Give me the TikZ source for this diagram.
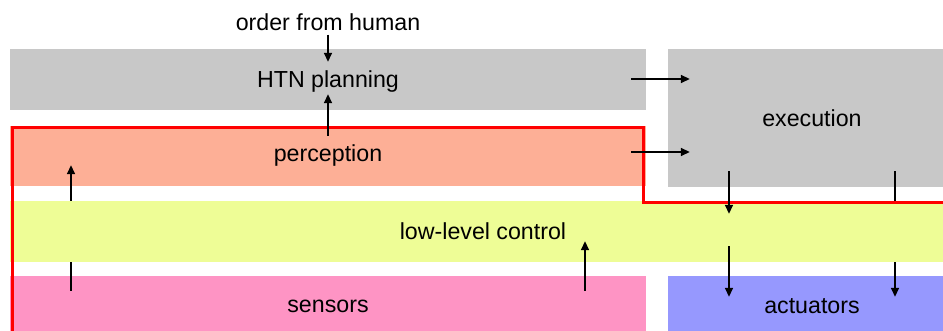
\documentclass[tikz,border=0pt]{standalone}
\usepackage{fontspec}
\setmainfont{Liberation Sans}
\usetikzlibrary{arrows.meta}

\definecolor{plangray}{RGB}{200,200,200}
\definecolor{percsalmon}{RGB}{253,175,150}
\definecolor{ctrlyellow}{RGB}{238,253,150}
\definecolor{senspink}{RGB}{254,148,196}
\definecolor{actblue}{RGB}{150,152,254}
\definecolor{borderred}{RGB}{255,0,0}

\tikzset{
  layer/.style={rectangle, draw=none, inner sep=0pt, font=\fontsize{23.2}{28}\selectfont},
  flow/.style={line width=1.6pt, -{Triangle[length=9pt,width=8pt]}},
  region/.style={draw=borderred, line width=3pt, line join=miter}
}

\begin{document}
\begin{tikzpicture}[x=1pt,y=-1pt]
  \useasboundingbox (0,0) rectangle (943,331);
  \clip (0,0) rectangle (943,331);

  % layers of the architecture
  \node[layer, fill=plangray, minimum width=636, minimum height=61, text depth=1pt] (htn) at (328,79.5) {HTN planning};
  \node[layer, fill=plangray, minimum width=288, minimum height=138] (exec) at (812,118) {execution};
  \node[layer, fill=percsalmon, minimum width=636, minimum height=60] (per) at (328,156) {perception};
  \node[layer, fill=senspink, minimum width=636, minimum height=60] (sen) at (328,306) {sensors};
  \node[layer, fill=actblue, minimum width=288, minimum height=60] (act) at (812,306) {actuators};
  \node[layer, inner sep=2pt] (order) at (328,22) {order from human};

  % flows that pass behind the low-level control layer
  \draw[flow, shorten <=-16, shorten >=-21] ([xshift=83pt]exec.south) -- ([xshift=83pt]act.north);
  \draw[flow, shorten <=-15, shorten >=-21] ([xshift=-257pt]sen.north) -- ([xshift=-257pt]per.south);

  \node[layer, fill=ctrlyellow, minimum width=946, minimum height=61] (low) at (483,231.5) {low-level control};

  % outline of the reactive part
  \draw[region] (12,340) -- (12,127.5) -- (643.5,127.5) -- (643.5,202.5) -- (960,202.5);

  % remaining flows
  \draw[flow, shorten <=2] (order.south) -- ([yshift=-13pt]htn.north);
  \draw[flow, shorten <=-10, shorten >=-16] (per.north) -- (htn.south);
  \draw[flow, shorten <=-15, shorten >=-22] ([yshift=0.5pt]htn.east) -- ([yshift=0.5pt]htn.east -| exec.west);
  \draw[flow, shorten <=-15, shorten >=-22] ([yshift=4pt]per.east) -- ([yshift=4pt]per.east -| exec.west);
  \draw[flow, shorten <=-16, shorten >=-13] ([xshift=-83pt]exec.south) -- ([xshift=-83pt]exec.south |- low.north);
  \draw[flow, shorten <=-16, shorten >=-21] ([xshift=-83pt]act.north |- low.south) -- ([xshift=-83pt]act.north);
  \draw[flow, shorten <=-15, shorten >=-21] ([xshift=257pt]sen.north) -- ([xshift=257pt]sen.north |- low.south);
\end{tikzpicture}
\end{document}
